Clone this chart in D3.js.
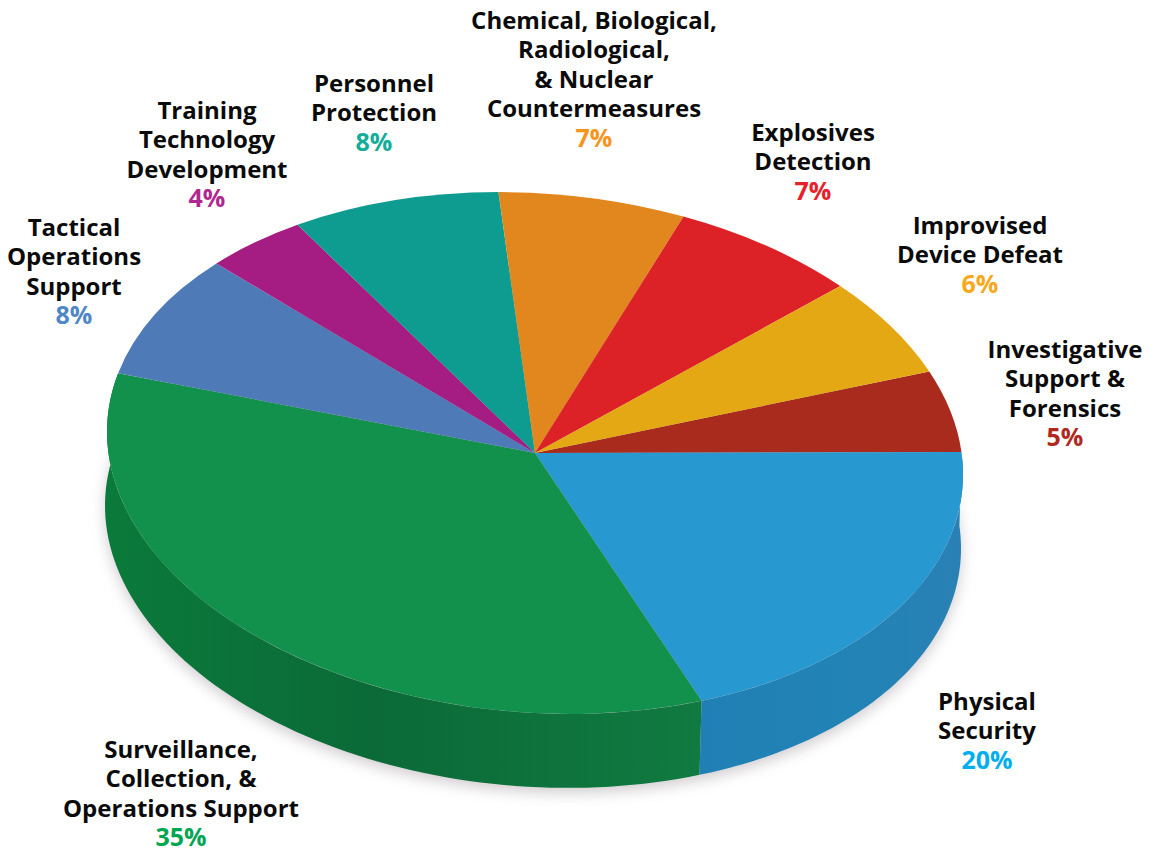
<!DOCTYPE html>
<html>
<head>
<meta charset="utf-8">
<script src="https://cdn.jsdelivr.net/npm/d3@7"></script>
<style>
  html, body { margin: 0; background: #fff; }
  text { font-family: "Open Sans", sans-serif; font-weight: 700; }
</style>
</head>
<body>
<div id="chart"></div>
<script>
// slices run clockwise, starting from Investigative Support
var categories = ["Investigative Support & Forensics", "Physical Security", "Surveillance, Collection, & Operations Support",
  "Tactical Operations Support", "Training Technology Development", "Personnel Protection",
  "Chemical, Biological, Radiological, & Nuclear Countermeasures", "Explosives Detection", "Improvised Device Defeat"];
var values = [5, 20, 35, 8, 4, 8, 7, 7, 6];
var labelLines = [
  ["Investigative", "Support &", "Forensics"],
  ["Physical", "Security"],
  ["Surveillance,", "Collection, &", "Operations Support"],
  ["Tactical", "Operations", "Support"],
  ["Training", "Technology", "Development"],
  ["Personnel", "Protection"],
  ["Chemical, Biological,", "Radiological,", "& Nuclear", "Countermeasures"],
  ["Explosives", "Detection"],
  ["Improvised", "Device Defeat"]
];
var sliceColors = ["#a92b1e", "#2898d0", "#12914c", "#4e7bb8", "#a51c82", "#0e9c90", "#e2871e", "#dc2226", "#e5a815"];
var percentColors = ["#b0281e", "#00aeef", "#00a651", "#4f86c6", "#b0288f", "#12ad9a", "#f7941d", "#e8202a", "#f7a81b"];

// label anchor: centre x, baseline of first line
var labelX = [1065, 987, 181, 74, 207, 374, 594, 813, 980];
var labelY = [358, 710, 758, 236, 119, 92, 29, 141, 234];
var lineStep = 29.4;

var width = 1151, height = 850;

// the top face is an ellipse with a small vertical skew, right side lower
var cx = 535, cy = 453, rx = 428, ry = 260, skew = 0.05;
var depthX = -2, depthY = 74;
var startAngle = 67.1 * Math.PI / 180;

var svg = d3.select("#chart").append("svg")
    .attr("width", width)
    .attr("height", height)
    .style("display", "block");

var defs = svg.append("defs");
defs.append("filter").attr("id", "soft")
    .attr("x", "-10%").attr("y", "-10%").attr("width", "120%").attr("height", "120%")
  .append("feGaussianBlur").attr("stdDeviation", 7);

function wallGradient(id, x1, x2, stops) {
  var g = defs.append("linearGradient").attr("id", id)
      .attr("gradientUnits", "userSpaceOnUse")
      .attr("x1", x1).attr("x2", x2).attr("y1", 0).attr("y2", 0);
  stops.forEach(function(s) {
    g.append("stop").attr("offset", s[0]).attr("stop-color", s[1]);
  });
}
wallGradient("wallGreen", cx - rx, cx + rx * 0.38, [[0, "#0a7a3a"], [0.45, "#0b6a38"], [1, "#107a40"]]);
wallGradient("wallBlue", cx + rx * 0.38, cx + rx, [[0, "#2080b5"], [0.6, "#2283b6"], [1, "#2a80b4"]]);

var pie = d3.pie().sort(null).value(function(d) { return d; })
    .startAngle(startAngle).endAngle(startAngle + 2 * Math.PI);
var slices = pie(values);

function rimPoint(a, dx, dy) {
  var x = rx * Math.sin(a), y = -ry * Math.cos(a);
  return [cx + dx + x, cy + dy + y + skew * x];
}

// soft shadow under the disc
var outline = d3.line();
svg.append("path")
    .attr("d", outline(d3.range(0, 2 * Math.PI, 0.02).map(function(a) { return rimPoint(a, depthX, depthY + 5); })) + "Z")
    .attr("fill", "#8a8088")
    .attr("opacity", 0.4)
    .attr("filter", "url(#soft)");

// side walls, only the two front slices show
function wallPath(s) {
  var n = 80;
  var angles = d3.range(n + 1).map(function(i) { return s.startAngle + (s.endAngle - s.startAngle) * i / n; });
  var pts = angles.map(function(a) { return rimPoint(a, 0, 0); })
    .concat(angles.slice().reverse().map(function(a) { return rimPoint(a, depthX, depthY); }));
  return outline(pts) + "Z";
}
svg.append("path").attr("d", wallPath(slices[2])).attr("fill", "url(#wallGreen)");
svg.append("path").attr("d", wallPath(slices[1])).attr("fill", "url(#wallBlue)");

// top face
var arc = d3.arc().innerRadius(0).outerRadius(ry);
var sx = rx / ry;
svg.append("g")
    .attr("transform", "matrix(" + [sx, skew * sx, 0, 1, cx, cy].join(",") + ")")
  .selectAll("path")
  .data(slices)
  .enter().append("path")
    .attr("d", arc)
    .attr("fill", function(d, i) { return sliceColors[i]; });

// labels
var labels = svg.append("g").selectAll("text")
    .data(categories)
  .enter().append("text")
    .attr("text-anchor", "middle")
    .attr("font-size", 24);

labels.each(function(d, i) {
  var t = d3.select(this);
  labelLines[i].forEach(function(line, j) {
    t.append("tspan")
      .attr("x", labelX[i])
      .attr("y", labelY[i] + j * lineStep)
      .attr("fill", "#0b0b0b")
      .text(line);
  });
  t.append("tspan")
    .attr("x", labelX[i])
    .attr("y", labelY[i] + labelLines[i].length * lineStep)
    .attr("fill", percentColors[i])
    .attr("font-size", 25)
    .text(values[i] + "%");
});
</script>
</body>
</html>
